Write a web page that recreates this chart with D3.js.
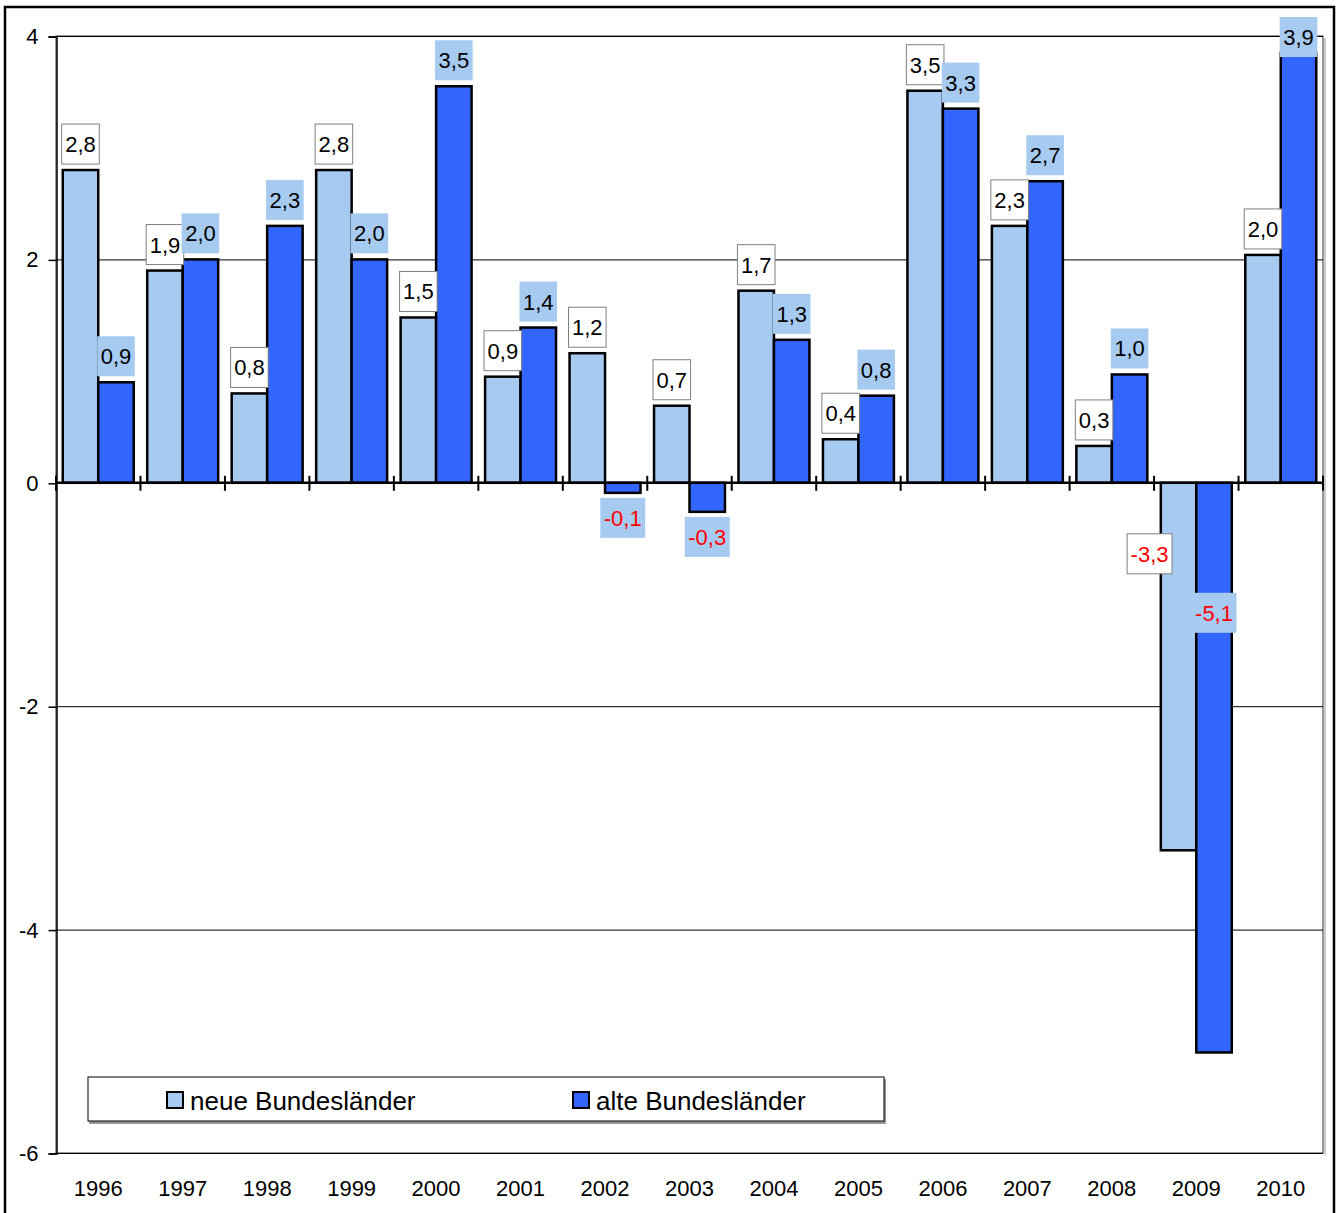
<!DOCTYPE html>
<html>
<head>
<meta charset="utf-8">
<script src="https://cdn.jsdelivr.net/npm/d3@7"></script>
<style>
  body { margin: 0; background: #fff; }
  svg { font-family: "Liberation Sans", Arial, sans-serif; }
</style>
</head>
<body>
<svg id="chart"></svg>
<script>
const years = ["1996", "1997", "1998", "1999", "2000", "2001", "2002", "2003",
  "2004", "2005", "2006", "2007", "2008", "2009", "2010"];
const neue = [2.8, 1.9, 0.8, 2.8, 1.48, 0.95, 1.16, 0.69, 1.72, 0.39, 3.51, 2.3, 0.33, -3.29, 2.04];
const alte = [0.9, 2.0, 2.3, 2.0, 3.55, 1.39, -0.09, -0.26, 1.28, 0.78, 3.35, 2.7, 0.97, -5.1, 3.85];
const neueLabels = ["2,8", "1,9", "0,8", "2,8", "1,5", "0,9", "1,2", "0,7", "1,7", "0,4", "3,5", "2,3", "0,3", "-3,3", "2,0"];
const alteLabels = ["0,9", "2,0", "2,3", "2,0", "3,5", "1,4", "-0,1", "-0,3", "1,3", "0,8", "3,3", "2,7", "1,0", "-5,1", "3,9"];
const yTicks = [4, 2, 0, -2, -4, -6];
const seriesNames = ["neue Bundesländer", "alte Bundesländer"];

const width = 1340;
const height = 1213;
const plotLeft = 56;
const plotRight = 1323;
const plotTop = 36;
const plotBottom = 1153;

const colors = { neue: "#a6caf0", alte: "#3366ff" };

const svg = d3.select("#chart").attr("width", width).attr("height", height);

// outer frame
svg.append("rect")
  .attr("x", 5).attr("y", 7)
  .attr("width", 1329).attr("height", 1230)
  .attr("fill", "none").attr("stroke", "#000").attr("stroke-width", 2.5);

const x0 = d3.scaleBand().domain(years).range([plotLeft, plotRight])
  .paddingInner(0.16).paddingOuter(0.08);
const x1 = d3.scaleBand().domain(["neue", "alte"]).range([0, x0.bandwidth()]);
const y = d3.scaleLinear().domain([-6, 4]).range([plotBottom, plotTop]);

// plot area shadow + border
svg.append("line")
  .attr("x1", plotRight + 2).attr("x2", plotRight + 2)
  .attr("y1", plotTop + 2).attr("y2", plotBottom + 2)
  .attr("stroke", "#ccc").attr("stroke-width", 2);
svg.append("rect")
  .attr("x", plotLeft).attr("y", plotTop)
  .attr("width", plotRight - plotLeft).attr("height", plotBottom - plotTop)
  .attr("fill", "#fff").attr("stroke", "#333").attr("stroke-width", 1);

// gridlines
svg.append("g")
  .selectAll("line")
  .data(yTicks)
  .enter()
  .append("line")
  .attr("x1", plotLeft).attr("x2", plotRight)
  .attr("y1", (d) => y(d) + 0.5).attr("y2", (d) => y(d) + 0.5)
  .attr("stroke", "#000").attr("stroke-width", 1);

// y axis
const yAxis = d3.axisLeft(y).tickValues(yTicks).tickSize(8).tickPadding(10)
  .tickFormat((d) => String(d));
const gy = svg.append("g")
  .attr("transform", "translate(" + (plotLeft + 0.5) + ",0.5)")
  .call(yAxis);
gy.select(".domain").attr("stroke", "#000").attr("stroke-width", 1.5);
gy.selectAll(".tick line").attr("stroke", "#000").attr("stroke-width", 1.5);
gy.selectAll(".tick text")
  .attr("font-size", 22).attr("fill", "#000")
  .attr("font-family", "Liberation Sans, Arial, sans-serif");

// bars
const rows = years.map((yr, i) => ({ year: yr, i: i }));
const groups = svg.append("g")
  .selectAll("g")
  .data(rows)
  .enter()
  .append("g")
  .attr("transform", (d) => "translate(" + x0(d.year) + ",0)");

["neue", "alte"].forEach((key) => {
  const vals = key === "neue" ? neue : alte;
  groups.append("rect")
    .attr("x", x1(key))
    .attr("width", x1.bandwidth())
    .attr("y", (d) => y(Math.max(0, vals[d.i])))
    .attr("height", (d) => Math.abs(y(vals[d.i]) - y(0)))
    .attr("fill", colors[key])
    .attr("stroke", "#000")
    .attr("stroke-width", 2.5);
});

// x axis at zero with boundary ticks
svg.append("line")
  .attr("x1", plotLeft).attr("x2", plotRight)
  .attr("y1", y(0)).attr("y2", y(0))
  .attr("stroke", "#000").attr("stroke-width", 2.5);
const step = x0.step();
svg.append("g")
  .selectAll("line")
  .data(d3.range(years.length + 1))
  .enter()
  .append("line")
  .attr("x1", (d) => plotLeft + d * step)
  .attr("x2", (d) => plotLeft + d * step)
  .attr("y1", y(0) - 7).attr("y2", y(0) + 8)
  .attr("stroke", "#000").attr("stroke-width", 2);

// year labels
svg.append("g")
  .selectAll("text")
  .data(years)
  .enter()
  .append("text")
  .attr("x", (d) => x0(d) + x0.bandwidth() / 2)
  .attr("y", plotBottom + 43)
  .attr("text-anchor", "middle")
  .attr("font-size", 22)
  .text((d) => d);

// data labels
const labelLayer = svg.append("g");
const drawLabel = (key, i) => {
  const vals = key === "neue" ? neue : alte;
  const txt = key === "neue" ? neueLabels[i] : alteLabels[i];
  const v = vals[i];
  let cx = x0(years[i]) + x1(key) + x1.bandwidth() / 2;
  let cy;
  if (v >= 0) {
    cy = Math.max(y(v) - 26, plotTop + 1);
  } else if (v > -1) {
    cy = y(v) + 25;
  } else {
    // large negative bars: labels pulled up near the axis, staggered
    cy = key === "neue" ? y(0) + 71 : y(0) + 130;
    if (key === "neue") cx -= 29;
  }
  const g = labelLayer.append("g");
  const t = g.append("text")
    .attr("x", cx).attr("y", cy + 8)
    .attr("text-anchor", "middle")
    .attr("font-size", 22)
    .attr("fill", v < 0 ? "#ff0000" : "#000")
    .text(txt);
  const w = t.node().getComputedTextLength() + 7;
  g.insert("rect", "text")
    .attr("x", cx - w / 2).attr("y", cy - 20)
    .attr("width", w).attr("height", 40)
    .attr("fill", key === "neue" ? "#fff" : colors.neue)
    .attr("stroke", key === "neue" ? "#808080" : "none")
    .attr("stroke-width", 1);
};
years.forEach((yr, i) => {
  drawLabel("neue", i);
  drawLabel("alte", i);
});

// legend
const legend = svg.append("g");
legend.append("rect")
  .attr("x", 89).attr("y", 1079).attr("width", 797).attr("height", 45)
  .attr("fill", "#999");
legend.append("rect")
  .attr("x", 88).attr("y", 1077).attr("width", 796).attr("height", 44)
  .attr("fill", "#fff").attr("stroke", "#000").attr("stroke-width", 1);
const legendX = [167, 573];
seriesNames.forEach((name, i) => {
  legend.append("rect")
    .attr("x", legendX[i]).attr("y", 1092)
    .attr("width", 16).attr("height", 16)
    .attr("fill", i === 0 ? colors.neue : colors.alte)
    .attr("stroke", "#000").attr("stroke-width", 2);
  legend.append("text")
    .attr("x", legendX[i] + 23).attr("y", 1110)
    .attr("font-size", 26)
    .text(name);
});
</script>
</body>
</html>
